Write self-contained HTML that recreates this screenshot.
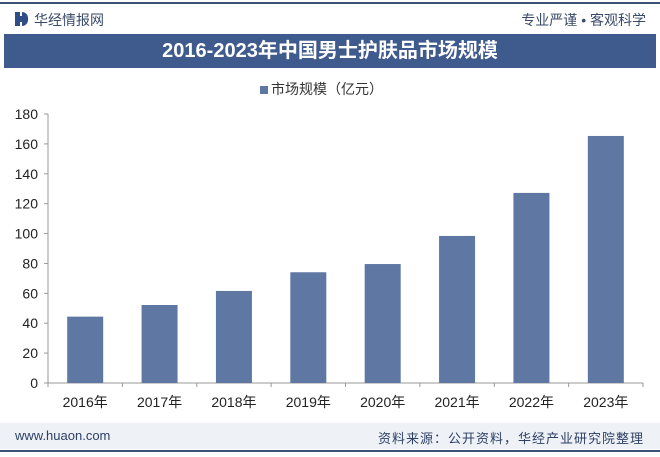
<!DOCTYPE html>
<html><head><meta charset="utf-8"><style>
body{margin:0;width:660px;height:457px;background:#fff;overflow:hidden;font-family:"Liberation Sans","Noto Sans CJK SC",sans-serif;position:relative}
.abs{position:absolute}
</style></head><body>
<div class="abs" style="left:0;top:2px;width:660px;height:2px;background:#3c5078"></div>
<div class="abs" style="left:15px;top:12px;width:14px;height:14px">
  <div class="abs" style="left:0;top:0;width:5px;height:14px;background:#2d4f86"></div>
  <div class="abs" style="left:7px;top:0;width:6px;height:14px;background:#2d4f86;border-radius:0 6px 6px 0"></div>
  <div class="abs" style="left:5px;top:4px;width:2px;height:6px;background:#2d4f86"></div>
</div>
<div class="abs" style="left:34px;top:10px;font-size:14px;color:#3a4a6a">华经情报网</div>
<div class="abs" style="right:14px;top:10px;font-size:14px;color:#3a4a6a">专业严谨 • 客观科学</div>
<div class="abs" style="left:4px;top:34px;width:652px;height:34px;background:#3f5a8c;color:#fff;font-size:20px;font-weight:bold;text-align:center;line-height:34px">2016-2023年中国男士护肤品市场规模</div>
<div class="abs" style="left:260px;top:79px;font-size:14px;color:#333"><span style="display:inline-block;width:8px;height:8px;background:#5f77a3;margin-right:3px"></span>市场规模（亿元）</div>
<svg class="abs" style="left:0;top:0" width="660" height="457" id="chart"></svg>
<div class="abs" style="left:0;top:423px;width:660px;height:26px;background:#eef1f6"></div>
<div class="abs" style="left:15px;top:428px;font-size:13px;color:#2d4066">www.huaon.com</div>
<div class="abs" style="right:16px;top:428px;font-size:13px;color:#2d4066;letter-spacing:1px">资料来源：公开资料，华经产业研究院整理</div>
<div class="abs" style="left:0;top:450px;width:660px;height:2px;background:#3c5078"></div>
<script>
const categories=["2016年","2017年","2018年","2019年","2020年","2021年","2022年","2023年"];
const values=[44.4,52.2,61.6,74.1,79.6,98.4,127.2,165.3];
const yTicks=[0,20,40,60,80,100,120,140,160,180];
const svg=document.getElementById('chart');
const NS='http://www.w3.org/2000/svg';
const x0=48,x1=643,y0=383,yTop=114,yMax=180;
const band=(x1-x0)/categories.length;
const ys=v=>y0-(v/yMax)*(y0-yTop);
function mk(t,a){const e=document.createElementNS(NS,t);for(const k in a)e.setAttribute(k,a[k]);svg.appendChild(e);return e;}
const ya=mk('line',{x1:x0,x2:x0,y1:yTop,y2:y0,stroke:'#999'});


const xa=mk('line',{x1:x0,x2:x1,y1:y0,y2:y0,stroke:'#999'});


yTicks.forEach(v=>{
  mk('line',{x1:x0-4,x2:x0,y1:ys(v),y2:ys(v),stroke:'#999'});
  const t=mk('text',{x:x0-10,y:ys(v)+5,'text-anchor':'end','font-size':14,fill:'#222'});
  t.textContent=v;
  
  
});
for(let i=0;i<=categories.length;i++)mk('line',{x1:x0+i*band,x2:x0+i*band,y1:y0,y2:y0+4,stroke:'#999'});
categories.forEach((c,i)=>{
  const cx=x0+band*(i+0.5),w=36;
  const r=mk('rect',{x:cx-w/2,y:ys(values[i]),width:w,height:y0-ys(values[i]),fill:'#5f77a3'});
  
  
  const t=mk('text',{x:cx,y:y0+24,'text-anchor':'middle','font-size':14,fill:'#222'});
  t.textContent=c;
  
  
});
</script>
</body></html>
